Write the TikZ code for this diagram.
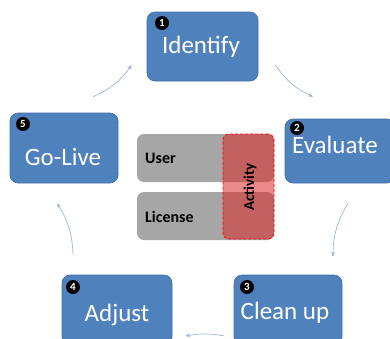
\documentclass[tikz,border=0pt]{standalone}
\usepackage{fontspec}
\setmainfont{Carlito}
\usetikzlibrary{arrows.meta}
\definecolor{stepblue}{RGB}{79,129,189}
\definecolor{stepedge}{RGB}{65,110,165}
\definecolor{cyclearrow}{RGB}{160,180,212}
\definecolor{fieldgray}{RGB}{166,166,166}
\definecolor{actred}{RGB}{220,40,40}
\begin{document}
\begin{tikzpicture}[x=1pt,y=-1pt,
	stepbox/.style={rectangle,rounded corners=8pt,fill=stepblue,draw=stepedge,line width=0.6pt},
	steptext/.style={anchor=base,text=white,font=\fontsize{25}{30}\selectfont,inner sep=0pt},
	badge/.style={circle,fill=black,text=white,font=\bfseries\fontsize{11}{11}\selectfont,inner sep=0pt,minimum size=14pt},
	fieldbox/.style={rectangle,rounded corners=7pt,fill=fieldgray,minimum width=137pt,minimum height=48pt},
	fieldtext/.style={anchor=base west,font=\bfseries\fontsize{16}{18}\selectfont,inner sep=0pt},
	cyc/.style={-{Stealth[length=5pt,width=4pt]},draw=cyclearrow,line width=0.7pt}]
	
	\useasboundingbox (0,0) rectangle (390,338);
	\clip (0,0) rectangle (390,338);
	
	\node[stepbox,minimum width=111pt,minimum height=69pt] (idf) at (202.5,46.5) {};
	\node[stepbox,minimum width=110pt,minimum height=64pt] (eva) at (340,151)   {};
	\node[stepbox,minimum width=108pt,minimum height=70pt] (cln) at (288,310)   {};
	\node[stepbox,minimum width=110pt,minimum height=70pt] (adj) at (117,310)   {};
	\node[stepbox,minimum width=108pt,minimum height=70pt] (gol) at (64,148)    {};
	
	\node[steptext] (idf-t) at (201,53)  {Identify};
	\node[steptext] (eva-t) at (335,153) {Evaluate};
	\node[steptext] (cln-t) at (285,319) {Clean up};
	\node[steptext] (adj-t) at (117,321) {Adjust};
	\node[steptext] (gol-t) at (63,165)  {Go-Live};
	
	\node[badge] (b1) at (162,23)  {1};
	\node[badge] (b2) at (297,128) {2};
	\node[badge] (b3) at (247,287) {3};
	\node[badge] (b4) at (73,287)  {4};
	\node[badge] (b5) at (23,124)  {5};
	
	\node[fieldbox] (usr) at (205.5,158) {};
	\node[fieldbox] (lic) at (205.5,216) {};
	\node[fieldtext] (usr-t) at (145,163) {User};
	\node[fieldtext] (lic-t) at (145,222) {License};
	\node[rectangle,rounded corners=6pt,fill=actred,fill opacity=0.55,draw=red,dash pattern=on 3pt off 2pt,line width=0.8pt,minimum width=51pt,minimum height=105pt] (act) at (248.5,186.5) {};
	\node[rotate=90,font=\bfseries\fontsize{15}{18}\selectfont,inner sep=0pt] (act-t) at (250,187) {Activity};
	
	\draw[cyc] ([shift={(17,18.5)}]idf.east) to[bend right=15] ([shift={(-27,-22)}]eva.north);
	\draw[cyc] ([shift={(8,20)}]eva.south) to[bend right=15] ([shift={(45,-18)}]cln.north);
	\draw[cyc] ([shift={(-9,26)}]cln.west) to[bend right=10] ([shift={(13,26)}]adj.east);
	\draw[cyc] ([shift={(-44,-20)}]adj.north) to[bend right=15] ([shift={(-7,20)}]gol.south);
	\draw[cyc] ([shift={(29,-16)}]gol.north) to[bend right=15] ([shift={(-15,18.5)}]idf.west);
	
\end{tikzpicture}
\end{document}
